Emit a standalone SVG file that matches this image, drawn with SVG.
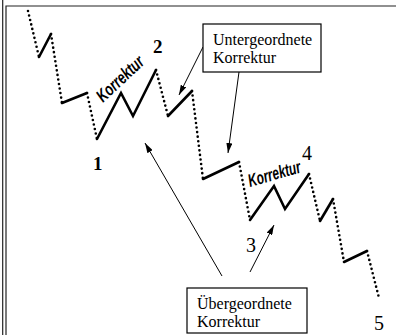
<svg xmlns="http://www.w3.org/2000/svg" width="396" height="335" viewBox="0 0 396 335">
<defs>
<style>
.frame{fill:none;stroke:#222;stroke-width:1.2}
.dot{fill:none;stroke:#000;stroke-width:2.6;stroke-linecap:round;stroke-dasharray:0 4.6}
.solid{fill:none;stroke:#000;stroke-width:2.6;stroke-linecap:round;stroke-linejoin:miter}
.conn{fill:none;stroke:#000;stroke-width:1;marker-end:url(#ah)}
.box{fill:#fff;stroke:#000;stroke-width:1.2}
.lbl{font-family:"Liberation Serif",serif;font-size:16px;fill:#000}
.num{font-family:"Liberation Serif",serif;font-size:20px;fill:#000}
.numb{font-family:"Liberation Serif",serif;font-size:19px;font-weight:bold;fill:#000}
.kor{font-family:"Liberation Sans",sans-serif;font-size:18px;font-weight:bold;font-style:italic;fill:#000}
</style>
<marker id="ah" viewBox="0 0 10 6" refX="10" refY="3" markerWidth="10" markerHeight="6" markerUnits="userSpaceOnUse" orient="auto">
<path d="M0,0 L10,3 L0,6 Z" fill="#000"/>
</marker>
</defs>
<g id="frame">
<line class="frame" x1="2.7" y1="0" x2="2.7" y2="335"/>
<polyline class="frame" points="6,335 6,6 396,6"/>
</g>
<g id="wave">
<polyline class="dot" points="28,11 39,57"/>
<polyline class="solid" points="39,57 51,34"/>
<polyline class="dot" points="51,34 62,103"/>
<polyline class="solid" points="62,103 87,93"/>
<polyline class="dot" points="87,93 97,139"/>
<polyline class="solid" points="97,139 121,93 133,116 156,70"/>
<polyline class="dot" points="156,70 168,116"/>
<polyline class="solid" points="168,116 192,91"/>
<polyline class="dot" points="192,91 203,179"/>
<polyline class="solid" points="203,179 239,162"/>
<polyline class="dot" points="239,162 250,220"/>
<polyline class="solid" points="250,220 274,186 285,209 309,174"/>
<polyline class="dot" points="309,174 320,221"/>
<polyline class="solid" points="320,221 333,199"/>
<polyline class="dot" points="333,199 344,262"/>
<polyline class="solid" points="344,262 367,251"/>
<polyline class="dot" points="367,251 379,298"/>
</g>
<g id="labels">
<text class="numb" x="93" y="170">1</text>
<text class="numb" x="153" y="53">2</text>
<text class="num" x="246" y="252">3</text>
<text class="num" x="302" y="160">4</text>
<text class="num" x="374" y="330">5</text>
<text class="kor" transform="translate(103,103) rotate(-43)" textLength="58" lengthAdjust="spacingAndGlyphs">Korrektur</text>
<text class="kor" transform="translate(250,187) rotate(-16)" textLength="54" lengthAdjust="spacingAndGlyphs">Korrektur</text>
</g>
<g id="connectors">
<line class="conn" x1="203" y1="47" x2="179" y2="95"/>
<line class="conn" x1="239" y1="72" x2="228" y2="153"/>
<line class="conn" x1="222" y1="276" x2="145" y2="143"/>
<line class="conn" x1="250" y1="272" x2="274" y2="225"/>
</g>
<g id="node-untergeordnete">
<rect class="box" x="203" y="24" width="118" height="48"/>
<text class="lbl" x="213" y="45">Untergeordnete</text>
<text class="lbl" x="213" y="63">Korrektur</text>
</g>
<g id="node-uebergeordnete">
<rect class="box" x="187" y="288" width="120" height="45"/>
<text class="lbl" x="197" y="309">Übergeordnete</text>
<text class="lbl" x="197" y="327">Korrektur</text>
</g>
</svg>
